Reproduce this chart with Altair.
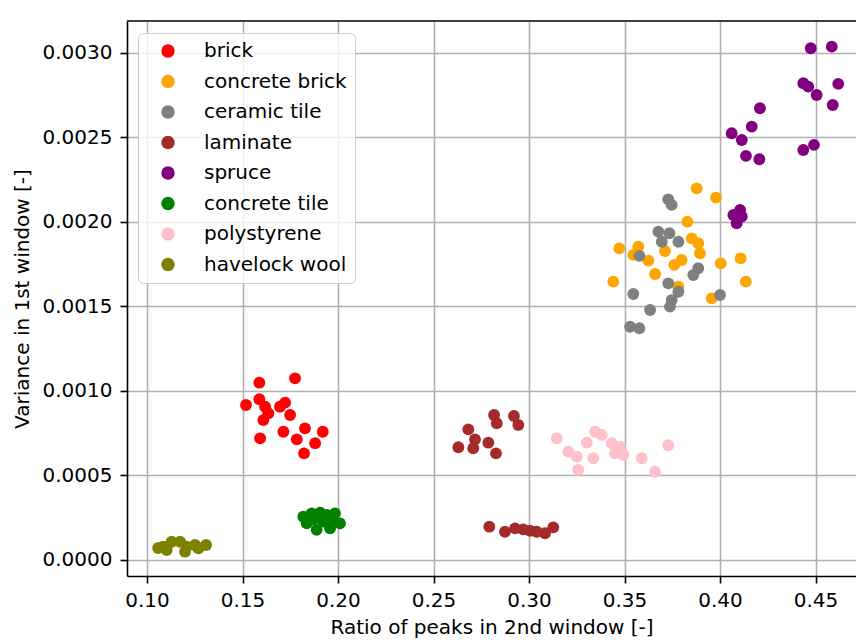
import altair as alt
import pandas as pd

categories = ["brick", "concrete brick", "ceramic tile", "laminate", "spruce",
              "concrete tile", "polystyrene", "havelock wool"]
colors = ["#ff0000", "#ffa500", "#808080", "#a52a2a", "#800080",
          "#008000", "#ffc0cb", "#808000"]

brick_x = [0.1588, 0.1775, 0.1518, 0.1588, 0.1618, 0.1635, 0.1609, 0.1723, 0.1696,
           0.1749, 0.1714, 0.1592, 0.1827, 0.1784, 0.1880, 0.1920, 0.1822]
brick_y = [0.001049, 0.001075, 0.000917, 0.000951, 0.000907, 0.000868, 0.000828, 0.000931, 0.000907,
           0.000858, 0.000759, 0.000720, 0.000779, 0.000714, 0.000691, 0.000759, 0.000631]

concrete_brick_x = [0.3878, 0.3979, 0.3829, 0.3852, 0.3886, 0.3895, 0.3473, 0.3572, 0.3546, 0.3625,
                    0.3712, 0.3660, 0.3761, 0.3799, 0.3441, 0.4004, 0.4108, 0.4135, 0.3957, 0.3782]
concrete_brick_y = [0.002199, 0.002144, 0.002002, 0.001903, 0.001874, 0.001815, 0.001844, 0.001854, 0.001805, 0.001771,
                    0.001828, 0.001692, 0.001746, 0.001775, 0.001647, 0.001755, 0.001785, 0.001647, 0.001548, 0.001617]

ceramic_tile_x = [0.3729, 0.3747, 0.3677, 0.3695, 0.3735, 0.3782, 0.3578, 0.3886, 0.3860,
                  0.3729, 0.3782, 0.3747, 0.3738, 0.3546, 0.3634, 0.3529, 0.3578, 0.4000]
ceramic_tile_y = [0.002134, 0.002101, 0.001943, 0.001883, 0.001933, 0.001883, 0.001799, 0.001726, 0.001686,
                  0.001637, 0.001587, 0.001538, 0.001499, 0.001574, 0.001479, 0.001380, 0.001371, 0.001568]

laminate_x = [0.2817, 0.2831, 0.2921, 0.2944, 0.2682, 0.2717, 0.2630, 0.2708, 0.2787, 0.2827,
              0.2792, 0.2874, 0.2927, 0.2970, 0.3005, 0.3040, 0.3084, 0.3127]
laminate_y = [0.000858, 0.000809, 0.000852, 0.000799, 0.000773, 0.000714, 0.000667, 0.000661, 0.000694, 0.000631,
              0.000197, 0.000167, 0.000187, 0.000181, 0.000173, 0.000167, 0.000158, 0.000193]

spruce_x = [0.4475, 0.4585, 0.4436, 0.4462, 0.4506, 0.4619, 0.4590, 0.4209, 0.4166, 0.4061,
            0.4114, 0.4136, 0.4206, 0.4436, 0.4492, 0.4070, 0.4105, 0.4114, 0.4087]
spruce_y = [0.003028, 0.003037, 0.002821, 0.002801, 0.002751, 0.002817, 0.002692, 0.002673, 0.002564, 0.002525,
            0.002485, 0.002391, 0.002371, 0.002426, 0.002456, 0.002041, 0.002071, 0.002032, 0.001992]

concrete_tile_x = [0.1818, 0.1862, 0.1906, 0.1941, 0.1984, 0.2010, 0.1888, 0.1958, 0.1836, 0.1923, 0.1870, 0.1970]
concrete_tile_y = [0.000256, 0.000276, 0.000280, 0.000266, 0.000276, 0.000217, 0.000178, 0.000188, 0.000217, 0.000227, 0.000240, 0.000230]

polystyrene_x = [0.3145, 0.3206, 0.3258, 0.3250, 0.3302, 0.3337, 0.3346, 0.3381, 0.3433, 0.3450,
                 0.3476, 0.3494, 0.3590, 0.3660, 0.3729]
polystyrene_y = [0.000720, 0.000641, 0.000533, 0.000611, 0.000694, 0.000602, 0.000759, 0.000740, 0.000691, 0.000631,
                 0.000670, 0.000621, 0.000602, 0.000522, 0.000679]

havelock_wool_x = [0.1085, 0.1129, 0.1173, 0.1208, 0.1199, 0.1103, 0.1251, 0.1309, 0.1269, 0.1058]
havelock_wool_y = [0.0000787, 0.000108, 0.000108, 0.0000787, 0.0000491, 0.0000592, 0.0000888, 0.0000888, 0.0000690, 0.0000710]

x_ticks = [0.10, 0.15, 0.20, 0.25, 0.30, 0.35, 0.40, 0.45]
y_ticks = [0.0, 0.0005, 0.0010, 0.0015, 0.0020, 0.0025, 0.0030]

series = [
    (brick_x, brick_y), (concrete_brick_x, concrete_brick_y), (ceramic_tile_x, ceramic_tile_y),
    (laminate_x, laminate_y), (spruce_x, spruce_y), (concrete_tile_x, concrete_tile_y),
    (polystyrene_x, polystyrene_y), (havelock_wool_x, havelock_wool_y),
]
rows = []
for cat, (xs, ys) in zip(categories, series):
    for xv, yv in zip(xs, ys):
        rows.append({"material": cat, "ratio": xv, "variance": yv})
df = pd.DataFrame(rows)

W, H = 729, 555
FONT = "DejaVu Sans"

points = alt.Chart(df).mark_circle(size=140, opacity=1).encode(
    x=alt.X("ratio:Q",
            scale=alt.Scale(domain=[0.0895, 0.4712], nice=False, zero=False),
            axis=alt.Axis(values=x_ticks, format=".2f", title="Ratio of peaks in 2nd window [-]")),
    y=alt.Y("variance:Q",
            scale=alt.Scale(domain=[-0.0000947, 0.003189], nice=False, zero=False),
            axis=alt.Axis(values=y_ticks, format=".4f", title="Variance in 1st window [-]")),
    color=alt.Color("material:N",
                    scale=alt.Scale(domain=categories, range=colors),
                    legend=alt.Legend(title=None, orient="none", legendX=11, legendY=12,
                                      fillColor="rgba(255,255,255,0.8)", strokeColor="#cccccc",
                                      cornerRadius=5, padding=8, rowPadding=10.5,
                                      symbolType="circle", symbolSize=180, symbolOpacity=1,
                                      symbolStrokeWidth=0, symbolOffset=12, labelOffset=26,
                                      labelFont=FONT, labelFontSize=20, labelColor="black",
                                      zindex=2)),
)

top_spine = alt.Chart(pd.DataFrame({"a": [0]})).mark_rule(color="black", strokeWidth=1.6).encode(
    x=alt.value(0), x2=alt.value(W), y=alt.value(0)
)

chart = alt.layer(points, top_spine).properties(
    width=W, height=H,
    autosize=alt.AutoSizeParams(type="none"),
    padding={"left": 119, "top": 13, "right": 0, "bottom": 66},
).configure_view(stroke=None).configure_axis(
    domainColor="black", domainWidth=1.6, tickColor="black", tickWidth=1.6, tickSize=7,
    gridColor="#b0b0b0", gridWidth=1.6, labelFont=FONT, labelFontSize=20, labelColor="black",
    titleFont=FONT, titleFontSize=20, titleFontWeight="normal", titleColor="black",
    zindex=1,
).configure_axisY(titlePadding=10, labelPadding=8).configure_axisX(titlePadding=7, labelPadding=7)

chart.save("out.html", embed_options={"renderer": "svg", "actions": False})
